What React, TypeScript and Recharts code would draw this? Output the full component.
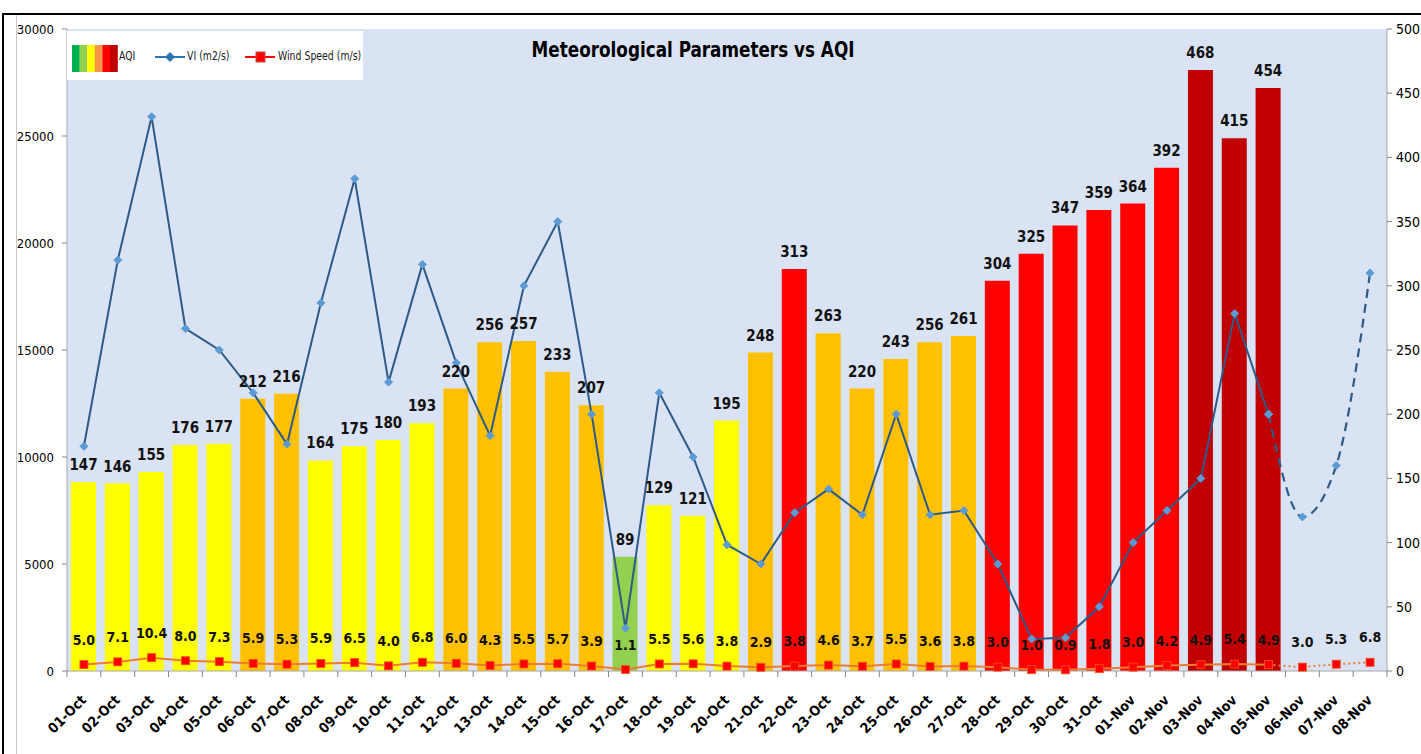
import React from 'react';
import { ComposedChart, Bar, Line, XAxis, YAxis, CartesianGrid, Cell, LabelList } from 'recharts';

const dates = [
  '01-Oct', '02-Oct', '03-Oct', '04-Oct', '05-Oct', '06-Oct', '07-Oct', '08-Oct', '09-Oct', '10-Oct',
  '11-Oct', '12-Oct', '13-Oct', '14-Oct', '15-Oct', '16-Oct', '17-Oct', '18-Oct', '19-Oct', '20-Oct',
  '21-Oct', '22-Oct', '23-Oct', '24-Oct', '25-Oct', '26-Oct', '27-Oct', '28-Oct', '29-Oct', '30-Oct',
  '31-Oct', '01-Nov', '02-Nov', '03-Nov', '04-Nov', '05-Nov', '06-Nov', '07-Nov', '08-Nov',
];

const aqi = [
  147, 146, 155, 176, 177, 212, 216, 164, 175, 180,
  193, 220, 256, 257, 233, 207, 89, 129, 121, 195,
  248, 313, 263, 220, 243, 256, 261, 304, 325, 347,
  359, 364, 392, 468, 415, 454, null, null, null,
];

const vi = [
  10500, 19200, 25900, 16000, 15000, 13000, 10600, 17200, 23000, 13500,
  19000, 14400, 11000, 18000, 21000, 12000, 2000, 13000, 10000, 5900,
  5000, 7400, 8500, 7300, 12000, 7300, 7500, 5000, 1500, 1550,
  3000, 6000, 7500, 9000, 16700, 12000, 7200, 9600, 18600,
];

const wind = [
  5.0, 7.1, 10.4, 8.0, 7.3, 5.9, 5.3, 5.9, 6.5, 4.0,
  6.8, 6.0, 4.3, 5.5, 5.7, 3.9, 1.1, 5.5, 5.6, 3.8,
  2.9, 3.8, 4.6, 3.7, 5.5, 3.6, 3.8, 3.0, 1.0, 0.9,
  1.8, 3.0, 4.2, 4.9, 5.4, 4.9, 3.0, 5.3, 6.8,
];

const leftTicks = [0, 5000, 10000, 15000, 20000, 25000, 30000];
const rightTicks = [0, 50, 100, 150, 200, 250, 300, 350, 400, 450, 500];

// last observed day, forecast after it
const lastObserved = dates.indexOf('05-Nov');

const data = dates.map((d, i) => ({
  date: d,
  aqi: aqi[i],
  wind: wind[i],
  viObs: i <= lastObserved ? vi[i] : null,
  viFc: i >= lastObserved ? vi[i] : null,
  windObs: i <= lastObserved ? wind[i] : null,
  windFc: i >= lastObserved ? wind[i] : null,
}));

const W = 1421;
const H = 754;
const PLOT_LEFT = 67;
const PLOT_RIGHT = 1387;
const BAND = (PLOT_RIGHT - PLOT_LEFT) / dates.length;
const FONT = "'DejaVu Sans Condensed', 'DejaVu Sans', sans-serif";

const aqiColor = (v: number | null) => {
  if (v == null) return 'none';
  if (v > 400) return '#c00000';
  if (v > 300) return '#ff0000';
  if (v > 200) return '#ffc000';
  if (v > 100) return '#ffff00';
  return '#92d050';
};

const DateTick = (props: any) => {
  const { x, y, payload, index } = props;
  const half = BAND / 2;
  const tx = x + 3;
  const ty = y + 30;
  return (
    <g>
      <line x1={x - half} y1={y} x2={x - half} y2={y + 6} stroke="#868686" />
      {index === dates.length - 1 && (
        <line x1={x + half} y1={y} x2={x + half} y2={y + 6} stroke="#868686" />
      )}
      <text
        x={tx}
        y={ty}
        transform={`rotate(-45, ${tx}, ${ty})`}
        textAnchor="end"
        fontFamily={FONT}
        fontWeight="bold"
        fontSize={14}
        fill="#000"
      >
        {payload.value}
      </text>
    </g>
  );
};

const Diamond = (props: any) => {
  const { cx, cy, value } = props;
  if (value == null || cx == null) return null;
  const r = 4;
  return (
    <polygon
      points={`${cx},${cy - r} ${cx + r},${cy} ${cx},${cy + r} ${cx - r},${cy}`}
      fill="#5b9bd5"
      stroke="#5b9bd5"
    />
  );
};

const Square = (props: any) => {
  const { cx, cy, value } = props;
  if (value == null || cx == null) return null;
  return <rect x={cx - 4} y={cy - 4} width={8} height={8} fill="#ff0000" stroke="#f4511e" strokeWidth={0.8} />;
};

const WindLabel = (props: any) => {
  const { x, y, value } = props;
  if (value == null) return null;
  return (
    <text x={x} y={y - 24} textAnchor="middle" dominantBaseline="middle" fontFamily={FONT} fontWeight="bold" fontSize={14} fill="#111">
      {Number(value).toFixed(1)}
    </text>
  );
};

const legendText: React.CSSProperties = {
  position: 'absolute',
  top: 17,
  display: 'inline-block',
  transform: 'scaleX(0.8)',
  transformOrigin: '0 0',
};

const LegendBox = () => (
  <div style={{ position: 'absolute', left: 67, top: 31, width: 296, height: 49, background: '#fff', fontFamily: FONT, fontSize: 13, color: '#222', whiteSpace: 'nowrap' }}>
    <svg width={296} height={49} style={{ position: 'absolute', left: 0, top: 0 }}>
      {['#00b050', '#92d050', '#ffff00', '#f79646', '#ff0000', '#c00000'].map((c, i) => (
        <rect key={c} x={5 + i * 7.6} y={14} width={7.8} height={27} fill={c} />
      ))}
      <line x1={88} y1={26} x2={118} y2={26} stroke="#2e75b6" strokeWidth={2} />
      <polygon points="103,21 108,26 103,31 98,26" fill="#2e75b6" />
      <line x1={178} y1={26} x2={208} y2={26} stroke="#ff0000" strokeWidth={2} />
      <rect x={189} y={21} width={9} height={10} fill="#ff0000" stroke="#c0504d" />
    </svg>
    <span style={{ ...legendText, left: 52 }}>AQI</span>
    <span style={{ ...legendText, left: 120 }}>VI (m2/s)</span>
    <span style={{ ...legendText, left: 211 }}>Wind Speed (m/s)</span>
  </div>
);

export default function App() {
  return (
    <div style={{ position: 'absolute', left: 0, top: 0, width: W, height: H, background: '#fff', overflow: 'hidden' }}>
      <div style={{ position: 'absolute', left: 2, top: 13, width: W, height: H, borderTop: '2px solid #000', borderLeft: '2px solid #000' }} />
      <div style={{ position: 'absolute', left: 16, top: 15, height: H, borderLeft: '1px solid #c8c8c8' }} />
      <ComposedChart
        width={W}
        height={H}
        data={data}
        margin={{ top: 29, right: 0, bottom: 0, left: 17 }}
        barSize={25}
        style={{ position: 'absolute', left: 0, top: 0 }}
      >
        <CartesianGrid fill="#dae3f3" horizontal={false} vertical={false} />
        <XAxis
          dataKey="date"
          interval={0}
          height={83}
          tickSize={0}
          tickMargin={0}
          tickLine={false}
          tick={<DateTick />}
          axisLine={{ stroke: '#a6a6a6' }}
        />
        <YAxis
          yAxisId="left"
          width={50}
          domain={[0, 30000]}
          ticks={leftTicks}
          tickSize={5}
          tickMargin={8}
          tick={{ fill: '#000', fontSize: 13, fontFamily: FONT }}
          axisLine={{ stroke: '#a6a6a6' }}
          tickLine={{ stroke: '#868686' }}
        />
        <YAxis
          yAxisId="right"
          orientation="right"
          width={34}
          domain={[0, 500]}
          ticks={rightTicks}
          tickSize={5}
          tickMargin={4}
          tick={{ fill: '#000', fontSize: 14, fontFamily: FONT, textAnchor: 'start' }}
          axisLine={{ stroke: '#a6a6a6' }}
          tickLine={{ stroke: '#868686' }}
        />
        <Bar yAxisId="right" dataKey="aqi" isAnimationActive={false}>
          {data.map((row, i) => (
            <Cell key={`aqi-${i}`} fill={aqiColor(row.aqi)} />
          ))}
          <LabelList dataKey="aqi" position="top" offset={12} fill="#111" fontSize={15} fontWeight="bold" fontFamily={FONT} />
        </Bar>
        <Line yAxisId="left" dataKey="viObs" stroke="#2e5a88" strokeWidth={2} dot={<Diamond />} activeDot={false} connectNulls={false} isAnimationActive={false} />
        <Line yAxisId="left" type="monotone" dataKey="viFc" stroke="#2e5a88" strokeWidth={2.2} strokeDasharray="9 6" dot={<Diamond />} activeDot={false} connectNulls={false} isAnimationActive={false} />
        <Line yAxisId="right" dataKey="windObs" stroke="#ed7d31" strokeWidth={2} dot={<Square />} activeDot={false} isAnimationActive={false} />
        <Line yAxisId="right" dataKey="windFc" stroke="#ed7d31" strokeWidth={2} strokeDasharray="2 3" dot={<Square />} activeDot={false} isAnimationActive={false} />
        <Line yAxisId="right" dataKey="wind" stroke="none" dot={false} activeDot={false} isAnimationActive={false}>
          <LabelList dataKey="wind" content={<WindLabel />} />
        </Line>
      </ComposedChart>
      <div style={{ position: 'absolute', left: 0, width: 1386, top: 37, textAlign: 'center', fontFamily: FONT, fontWeight: 'bold', fontSize: 22, color: '#000', transform: 'scaleX(0.85)', transformOrigin: '693px 0' }}>
        Meteorological Parameters vs AQI
      </div>
      <LegendBox />
    </div>
  );
}
